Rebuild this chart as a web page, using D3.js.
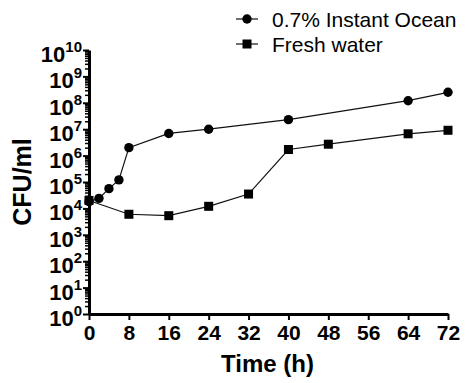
<!DOCTYPE html>
<html>
<head>
<meta charset="utf-8">
<script src="https://cdn.jsdelivr.net/npm/d3@7"></script>
<style>
  body { margin: 0; background: #fff; }
  svg { display: block; font-family: "Liberation Sans", Arial, sans-serif; }
</style>
</head>
<body>
<div id="chart"></div>
<script>
// hours sampled
const oceanTime = [0, 2, 4, 6, 8, 16, 24, 40, 64, 72];
const oceanCfu = [1.8e4, 2.4e4, 5.6e4, 1.2e5, 2.0e6, 6.9e6, 1.0e7, 2.3e7, 1.2e8, 2.5e8];
const freshTime = [0, 8, 16, 24, 32, 40, 48, 64, 72];
const freshCfu = [2.0e4, 6.0e3, 5.3e3, 1.2e4, 3.5e4, 1.7e6, 2.7e6, 6.7e6, 9.1e6];
const seriesNames = ["0.7% Instant Ocean", "Fresh water"];
const xTicks = [0, 8, 16, 24, 32, 40, 48, 56, 64, 72];
const yExponents = [0, 1, 2, 3, 4, 5, 6, 7, 8, 9, 10];

const width = 469, height = 383;
const plotLeft = 89, plotRight = 448, plotTop = 50, plotBottom = 314;

const svg = d3.select("#chart").append("svg")
    .attr("width", width)
    .attr("height", height);

const x = d3.scaleLinear().domain([0, 72]).range([plotLeft, plotRight]);
const y = d3.scaleLog().domain([1, 1e10]).range([plotBottom, plotTop]);

// minor ticks 2..9 in every decade
let minor = [];
for (let e = 0; e < 10; e++) {
  for (let m = 2; m <= 9; m++) minor.push(m * Math.pow(10, e));
}

const yAxisMinor = svg.append("g")
    .attr("transform", "translate(" + plotLeft + ",0)")
    .call(d3.axisLeft(y).tickValues(minor).tickSize(4).tickFormat(""));
yAxisMinor.select(".domain").remove();
yAxisMinor.selectAll("line").attr("stroke", "#000").attr("stroke-width", 1.5);

const yAxis = svg.append("g")
    .attr("transform", "translate(" + plotLeft + ",0)")
    .call(d3.axisLeft(y).tickValues(yExponents.map(e => Math.pow(10, e))).tickSize(6).tickSizeOuter(0).tickFormat(""));
yAxis.select(".domain").attr("stroke", "#000").attr("stroke-width", 3);
yAxis.selectAll("line").attr("stroke", "#000").attr("stroke-width", 2);

// y tick labels with superscripts
const yLab = svg.append("g");
yExponents.forEach(e => {
  const t = yLab.append("text")
      .attr("x", 82)
      .attr("y", y(Math.pow(10, e)) + 12)
      .attr("text-anchor", "end")
      .attr("font-weight", "bold")
      .attr("font-size", 22)
      .attr("fill", "#000");
  t.append("tspan").text("10");
  t.append("tspan").attr("dy", -10).attr("font-size", 15).text(e);
});

const xAxis = svg.append("g")
    .attr("transform", "translate(0," + plotBottom + ")")
    .call(d3.axisBottom(x).tickValues(xTicks).tickSize(6).tickSizeOuter(0).tickPadding(5));
xAxis.select(".domain").attr("stroke", "#000").attr("stroke-width", 3);
xAxis.selectAll("line").attr("stroke", "#000").attr("stroke-width", 2);
xAxis.selectAll("text")
    .attr("font-family", "Liberation Sans, Arial, sans-serif")
    .attr("font-weight", "bold")
    .attr("font-size", 21)
    .attr("fill", "#000");

svg.append("text")
    .attr("x", (plotLeft + plotRight) / 2 - 1)
    .attr("y", 372)
    .attr("text-anchor", "middle")
    .attr("font-weight", "bold")
    .attr("font-size", 24)
    .text("Time (h)");

svg.append("text")
    .attr("transform", "translate(31," + ((plotTop + plotBottom) / 2) + ") rotate(-90)")
    .attr("text-anchor", "middle")
    .attr("font-weight", "bold")
    .attr("font-size", 25)
    .text("CFU/ml");

const line = d3.line()
    .x(d => x(d[0]))
    .y(d => y(d[1]));

const ocean = oceanTime.map((t, i) => [t, oceanCfu[i]]);
const fresh = freshTime.map((t, i) => [t, freshCfu[i]]);

svg.append("path").datum(fresh).attr("d", line)
    .attr("fill", "none").attr("stroke", "#111").attr("stroke-width", 1.2);
svg.append("path").datum(ocean).attr("d", line)
    .attr("fill", "none").attr("stroke", "#111").attr("stroke-width", 1.2);

svg.append("g").selectAll("rect").data(fresh).join("rect")
    .attr("x", d => x(d[0]) - 4.5)
    .attr("y", d => y(d[1]) - 4.5)
    .attr("width", 9).attr("height", 9)
    .attr("fill", "#000");
svg.append("g").selectAll("circle").data(ocean).join("circle")
    .attr("cx", d => x(d[0]))
    .attr("cy", d => y(d[1]))
    .attr("r", 4.7)
    .attr("fill", "#000");

// legend
const legend = svg.append("g");
[19, 44].forEach((ly, i) => {
  legend.append("line")
      .attr("x1", 236).attr("x2", 258)
      .attr("y1", ly).attr("y2", ly)
      .attr("stroke", "#111").attr("stroke-width", 1.2);
  if (i === 0) {
    legend.append("circle").attr("cx", 247).attr("cy", ly).attr("r", 4.7).attr("fill", "#000");
  } else {
    legend.append("rect").attr("x", 242.5).attr("y", ly - 4.5).attr("width", 9).attr("height", 9).attr("fill", "#000");
  }
  legend.append("text")
      .attr("x", 272)
      .attr("y", ly + 8)
      .attr("font-size", 21)
      .attr("fill", "#000")
      .text(seriesNames[i]);
});
</script>
</body>
</html>
